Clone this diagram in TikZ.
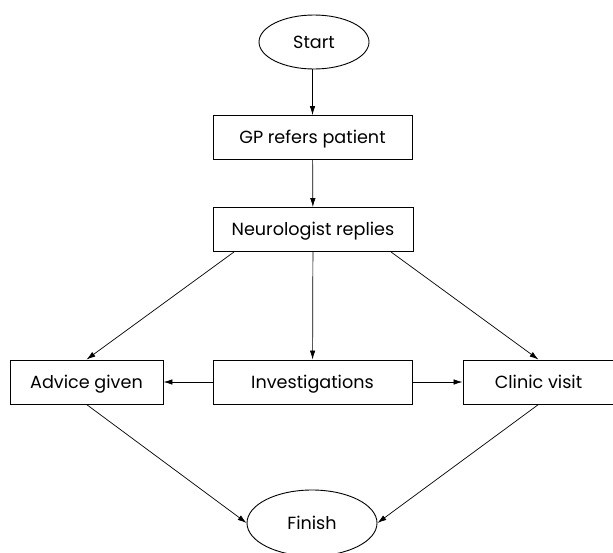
\documentclass[tikz,border=0pt]{standalone}
\usepackage{fontspec}
\setmainfont{Poppins}
\usetikzlibrary{shapes.geometric,arrows.meta}
\begin{document}
\begin{tikzpicture}[x=1pt,y=-1pt,
  lbl/.style={font=\fontsize{17.6}{20}\selectfont,text height=12.3pt,text depth=0pt},
  box/.style={lbl,draw,line width=0.9pt,minimum height=44pt,inner sep=0pt},
  oval/.style={lbl,draw,ellipse,line width=0.9pt,inner sep=0pt},
  arr/.style={-{Latex[length=9pt,width=5.5pt]},line width=0.7pt}]
\useasboundingbox (0,0) rectangle (613,552);
\node[oval,minimum width=110pt,minimum height=54pt] (start) at (314,42) {Start};
\node[box,minimum width=199pt] (gp) at (312.5,137.5) {GP refers patient};
\node[box,minimum width=200pt] (neuro) at (313,229.5) {Neurologist replies};
\node[box,minimum width=153pt] (advice) at (86.5,382) {Advice given};
\node[box,minimum width=199pt] (inv) at (312.5,382) {Investigations};
\node[box,minimum width=151pt] (clinic) at (538.5,382) {Clinic visit};
\node[oval,minimum width=130pt,minimum height=66pt] (finish) at (312,523) {Finish};
\draw[arr] (start.south -| gp.north) -- (gp.north);
\draw[arr] (gp) -- (neuro);
\draw[arr] (neuro) -- (inv);
\draw[arr] ([xshift=-79pt]neuro.south) -- (advice.north);
\draw[arr] ([xshift=78pt]neuro.south) -- (clinic.north);
\draw[arr] (inv) -- (advice);
\draw[arr] (inv) -- (clinic);
\draw[arr] (advice.south) -- (finish.west);
\draw[arr] (clinic.south) -- (finish.east);
\end{tikzpicture}
\end{document}
